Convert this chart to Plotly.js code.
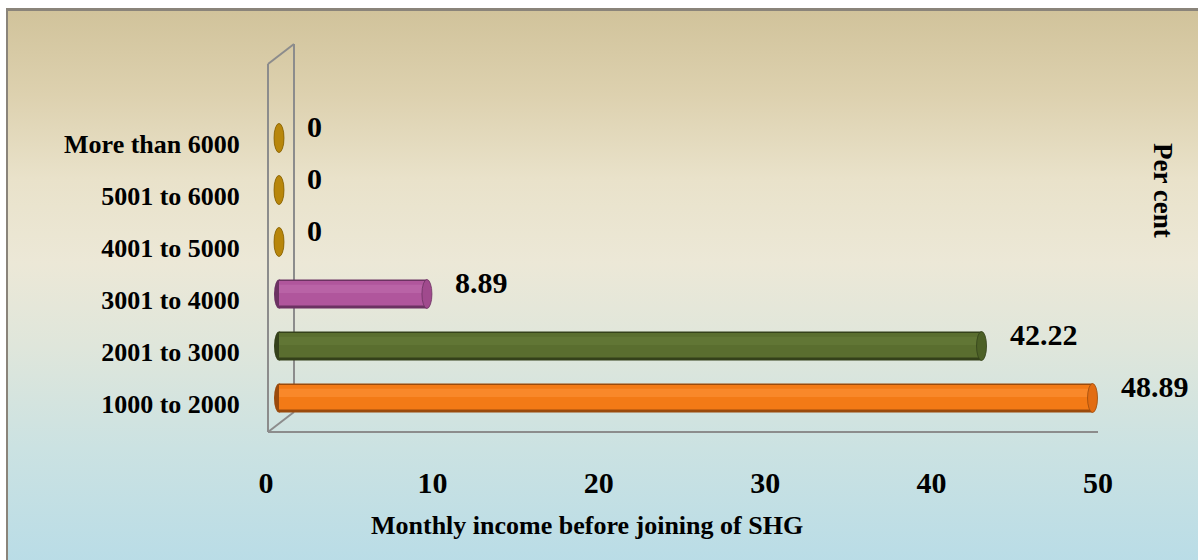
<!DOCTYPE html>
<html><head><meta charset="utf-8">
<script src="https://cdn.plot.ly/plotly-3.0.1.min.js"></script>
<style>
html,body{margin:0;padding:0;background:#fff;}
#wrap{position:relative;width:1198px;height:560px;overflow:hidden;}
#bg{position:absolute;left:6px;top:8px;width:1200px;height:560px;border-top:3px solid #8a847a;border-left:2px solid #8a847a;
background:linear-gradient(to bottom,#d1c39b 0%,#ddd1af 15%,#e9e2ca 30%,#ece8d7 45%,#dfe6db 60%,#cbe2e2 78%,#b8dce7 100%);}
#chart{position:absolute;left:0;top:0;width:1198px;height:560px;}
</style></head>
<body><div id="wrap"><div id="bg"></div><div id="chart"></div></div>
<script>
// ---- data ----
const categories = ['1000 to 2000','2001 to 3000','3001 to 4000','4001 to 5000','5001 to 6000','More than 6000'];
const percent = [48.89, 42.22, 8.89, 0, 0, 0];
const xTicks = [0, 10, 20, 30, 40, 50];
const xTitle = 'Monthly income before joining of SHG';
const sideTitle = 'Per cent';

// ---- styles ----
const darkCol  = ['#9a4a0c','#34411a','#6c3262','#8a6508','#8a6508','#8a6508'];
const mainCol  = ['#f37a16','#5a6e2f','#b0569c','#b8860b','#b8860b','#b8860b'];
const lightCol = ['#f9882a','#617635','#b963a6','#c99a20','#c99a20','#c99a20'];
const capCol   = ['#e26c12','#4c6026','#a04a8d','#b8860b','#b8860b','#b8860b'];
const FONT = '"Liberation Serif", "Times New Roman", serif';

const L = 266, R = 100, T = 64, B = 128, Wd = 1198, Ht = 560;
const PW = Wd - L - R, PH = Ht - T - B;
const step = 52;            // px per category on the front plane
const y0 = -28 / step;      // category 0 sits 28px above the floor
const y1 = y0 + PH / step;
const barShiftY = 6 / step; // bars sit a bit deeper (higher) than labels
const pxPerUnit = PW / 50;
const barShiftX = 13 / pxPerUnit;

function layer(w, off, cols) {
  return {type:'bar', orientation:'h', x: percent, y: categories, xaxis:'x2', yaxis:'y2',
    width: w, offset: off, marker:{color: cols, line:{width:0}}, hoverinfo:'skip', showlegend:false};
}
const bw = 0.56;
const traces = [
  {type:'scatter', mode:'markers', x:[], y:[], xaxis:'x', yaxis:'y', showlegend:false, hoverinfo:'skip'},
  layer(bw, -bw/2, darkCol),
  layer(0.47, -bw/2 + 0.06, mainCol),
  layer(0.16, 0.02, lightCol)
];

const shapes = [];
const fx = 2 / PW, bx = 28 / PW, dy = 20 / PH;
const frameLine = {color:'#8c8c8c', width:2};
[[fx,0,fx,1],[bx,dy,bx,1+dy],[fx,1,bx,1+dy],[fx,0,bx,dy],[fx,0,1,0]].forEach(s => {
  shapes.push({type:'line', xref:'paper', yref:'paper', x0:s[0], y0:s[1], x1:s[2], y1:s[3], line:frameLine, layer:'below'});
});
categories.forEach((c, i) => {
  shapes.push({type:'circle', xref:'x2', yref:'y2', xsizemode:'pixel', ysizemode:'pixel',
    xanchor:0, yanchor:c, x0:-5, x1:5, y0:-14.5, y1:14.5, fillcolor: darkCol[i], line:{width:0}, layer:'below'});
  shapes.push({type:'circle', xref:'x2', yref:'y2', xsizemode:'pixel', ysizemode:'pixel',
    xanchor:percent[i], yanchor:c, x0:-5, x1:5, y0:-14.5, y1:14.5, fillcolor: capCol[i],
    line:{width:0.8, color: darkCol[i]}, layer:'above'});
});

const annotations = categories.map((c, i) => ({
  xref:'x2', yref:'y2', x: percent[i], y: c, text: String(percent[i]),
  xanchor:'left', yanchor:'middle', xshift: 26, yshift: 12, showarrow:false,
  font:{family:FONT, size:30, color:'#000', weight:'bold'}
}));
annotations.push({xref:'paper', yref:'paper', x:(587 - L)/PW, y:(T + PH - 525)/PH, text:xTitle,
  showarrow:false, xanchor:'center', yanchor:'middle', font:{family:FONT, size:26, color:'#000', weight:'bold'}});
annotations.push({xref:'paper', yref:'paper', x:(1163 - L)/PW, y:(T + PH - 190)/PH, text:sideTitle, textangle:90,
  showarrow:false, xanchor:'center', yanchor:'middle', font:{family:FONT, size:27, color:'#000', weight:'bold'}});

const layout = {
  width: Wd, height: Ht, margin:{l:L, r:R, t:T, b:B},
  paper_bgcolor:'rgba(0,0,0,0)', plot_bgcolor:'rgba(0,0,0,0)',
  barmode:'overlay', showlegend:false,
  xaxis:{visible:true, range:[0,50], tickmode:'array', tickvals:xTicks, ticktext:xTicks.map(String), showticklabels:true,
    showgrid:false, zeroline:false, showline:false,
    ticks:'outside', ticklen:24, tickcolor:'rgba(0,0,0,0)', fixedrange:true,
    tickfont:{family:FONT, size:30, color:'#000', weight:'bold'}},
  yaxis:{visible:true, type:'category', categoryarray:categories, categoryorder:'array', range:[y0, y1],
    tickmode:'array', tickvals:categories, ticktext:categories, showticklabels:true,
    showgrid:false, zeroline:false, showline:false, ticks:'outside', ticklen:20, tickcolor:'rgba(0,0,0,0)',
    tickfont:{family:FONT, size:26, color:'#000', weight:'bold'}, fixedrange:true},
  xaxis2:{overlaying:'x', range:[-barShiftX, 50 - barShiftX], visible:false, fixedrange:true},
  yaxis2:{overlaying:'y', type:'category', categoryarray:categories, categoryorder:'array',
    range:[y0 - barShiftY, y1 - barShiftY], visible:false, fixedrange:true},
  shapes: shapes, annotations: annotations
};
Plotly.newPlot('chart', traces, layout, {displayModeBar:false, staticPlot:true});
</script></body></html>
